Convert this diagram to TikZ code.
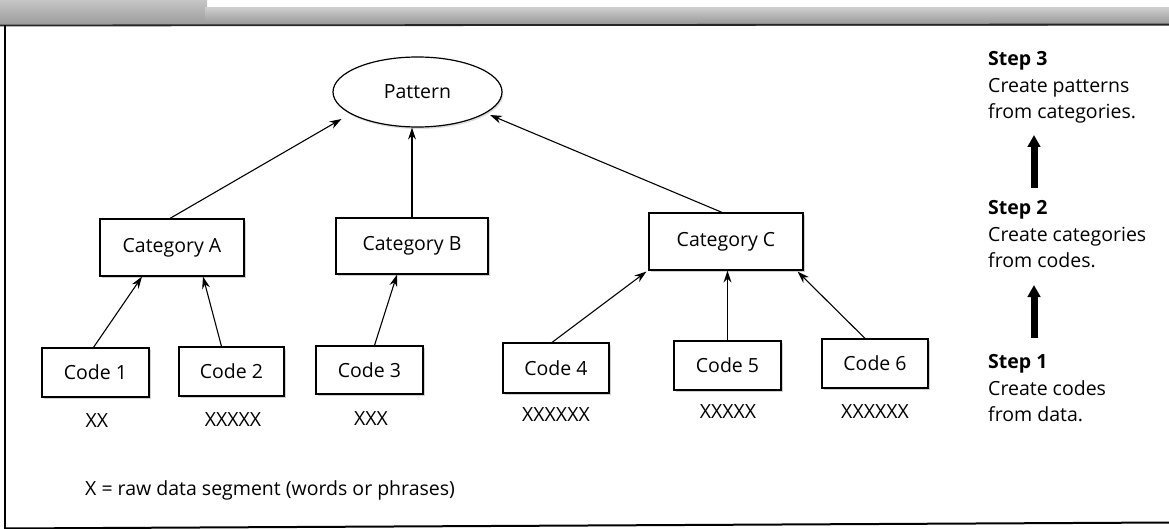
\documentclass[tikz,border=0pt]{standalone}
\usepackage{fontspec}
\setmainfont{Open Sans}
\usetikzlibrary{arrows.meta,shapes.geometric,calc,shadows}

\begin{document}
\begin{tikzpicture}[x=1pt,y=-1pt,
  txt/.style={font=\fontsize{19.5}{26}\selectfont,inner sep=0pt},
  boldtxt/.style={font=\fontsize{19.5}{26}\selectfont\bfseries,inner sep=0pt},
  shade box/.style={drop shadow={shadow xshift=1.8pt,shadow yshift=-2pt,fill=gray!60,opacity=0.6}},
  catbox/.style={draw,line width=1.2pt,fill=white,txt,minimum height=57pt,shade box},
  codebox/.style={draw,line width=1.2pt,fill=white,txt,minimum height=49pt,minimum width=106pt,shade box},
  arr/.style={line width=1.1pt,-{Stealth[length=12pt,width=8pt]}},
  bigarr/.style={line width=7pt,-{Triangle[length=12pt,width=12.5pt]}}
]
\useasboundingbox (0,0) rectangle (1169,529);

% torn header strip of the figure frame
\shade[top color=gray!45,bottom color=gray!80] (0,0) rectangle (207,26);
\shade[top color=gray!40,bottom color=gray!85] (205,8) rectangle (1169,26);
\draw[line width=1.8pt,black!85] (0,25.5) -- (1169,24.5);

% frame: left side and bottom edge
\draw[line width=1.8pt] (5,25) -- (5,529);
\draw[line width=2pt] (5,528.5) -- (1169,522.5);

% pattern
\node[draw,ellipse,line width=1.2pt,fill=white,txt,minimum width=169pt,minimum height=70pt,
      drop shadow={shadow xshift=1.2pt,shadow yshift=-2pt,fill=gray!55,opacity=0.5}]
      (pat) at (417.5,92) {Pattern};

% categories
\node[catbox,minimum width=144pt] (ca) at (172,247.5) {Category A};
\node[catbox,minimum width=152pt,minimum height=56pt] (cb) at (412,246) {Category B};
\node[catbox,minimum width=154pt] (cc) at (726,241.5) {Category C};

% codes
\node[codebox,minimum width=107pt] (c1) at (95.5,372.5) {Code 1};
\node[codebox,minimum width=105pt] (c2) at (231.5,371.5) {Code 2};
\node[codebox,minimum width=107pt,minimum height=48pt] (c3) at (369.5,370) {Code 3};
\node[codebox,minimum height=50pt] (c4) at (556,368) {Code 4};
\node[codebox,minimum width=107pt] (c5) at (727.5,365.5) {Code 5};
\node[codebox] (c6) at (875,363.5) {Code 6};

% raw data segments
\node[txt,anchor=base] (x1) at (97,427) {XX};
\node[txt,anchor=base] (x2) at (233,426) {XXXXX};
\node[txt,anchor=base] (x3) at (371,425) {XXX};
\node[txt,anchor=base] (x4) at (556,421) {XXXXXX};
\node[txt,anchor=base] (x5) at (728,418) {XXXXX};
\node[txt,anchor=base] (x6) at (875,418) {XXXXXX};

\node[txt,anchor=base west] (legend) at (85,495) {X = raw data segment (words or phrases)};

% connectors: codes to categories
\draw[arr] ($(c1.north)+(-2,0)$) -- ($(ca.south)+(-30,0)$);
\draw[arr] ($(c2.north)+(-10,0)$) -- ($(ca.south)+(31,0)$);
\draw[arr] ($(c3.north)+(5,0)$) -- ($(cb.south)+(-15,0)$);
\draw[arr] ($(c4.north)+(-4,0)$) -- ($(cc.south west)+(-2,1)$);
\draw[arr] (c5.north) -- (c5.north |- cc.south);
\draw[arr] ($(c6.north)+(-10,0)$) -- ($(cc.south east)+(-6,1)$);

% connectors: categories to pattern
\draw[arr] ($(ca.north)+(-2,0)$) -- ($(pat.center)+(-76,27)$);
\draw[arr] (cb.north) -- (cb.north |- pat.south);
\draw[arr] ($(cc.north)+(-4,0)$) -- ($(pat.center)+(72.5,23)$);

% steps
\node[boldtxt,anchor=base west] (s3h) at (988,66) {Step 3};
\node[txt,anchor=base west] (s3a) at (988,93) {Create patterns};
\node[txt,anchor=base west] (s3b) at (988,119) {from categories.};

\node[boldtxt,anchor=base west] (s2h) at (988,215) {Step 2};
\node[txt,anchor=base west] (s2a) at (988,242) {Create categories};
\node[txt,anchor=base west] (s2b) at (988,268) {from codes.};

\node[boldtxt,anchor=base west] (s1h) at (988,368) {Step 1};
\node[txt,anchor=base west] (s1a) at (988,395) {Create codes};
\node[txt,anchor=base west] (s1b) at (988,421) {from data.};

\coordinate (a2t) at (1034,135);
\coordinate (a1t) at (1034,285);
\draw[bigarr] (1034,188) -- (a2t);
\draw[bigarr] (1034,338) -- (a1t);
\end{tikzpicture}
\end{document}
